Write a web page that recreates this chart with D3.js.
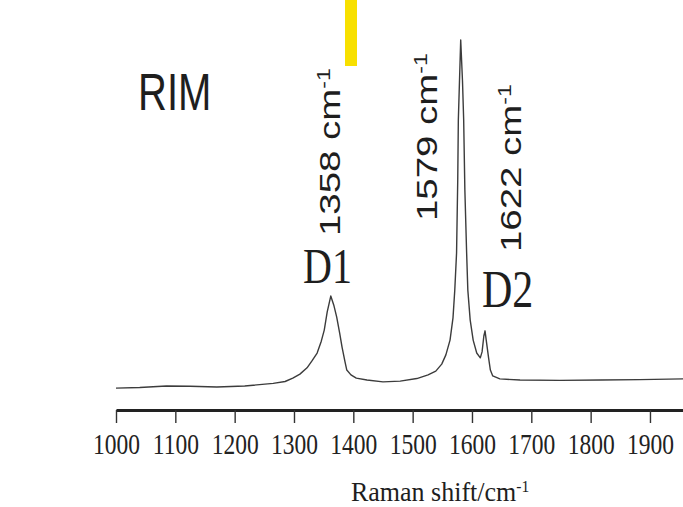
<!DOCTYPE html>
<html>
<head>
<meta charset="utf-8">
<style>
  body { margin: 0; background: #fff; }
  svg { display: block; }
</style>
</head>
<body>
<script src="https://cdn.jsdelivr.net/npm/d3@7"></script>
<script>
    // spectrum (wavenumber, intensity a.u.)
    let wavenumber = [1000, 1040, 1085, 1125, 1170, 1217, 1265, 1285, 1298, 1310, 1322, 1330, 1339, 1346, 1351, 1356, 1362, 1367, 1372, 1377, 1381, 1386, 1389, 1396, 1405, 1423, 1450, 1479, 1507, 1526, 1539, 1549, 1556, 1563, 1568, 1571, 1574, 1576, 1577, 1581, 1584, 1586, 1588, 1591, 1593, 1597, 1602, 1608, 1614, 1617, 1620, 1622, 1624, 1628, 1631, 1635, 1647, 1681, 1748, 1816, 1883, 1956]
    let intensity = [5.9, 6.1, 6.5, 6.4, 6.2, 6.5, 7.2, 7.7, 8.6, 9.7, 11.4, 13.2, 15.4, 18.6, 21.6, 26.5, 30.8, 28.4, 25.1, 20.8, 17.0, 13.0, 10.8, 9.5, 8.6, 8.1, 7.6, 7.8, 8.5, 9.5, 10.5, 12.4, 14.9, 18.9, 24.9, 32.4, 42.4, 62.2, 78.4, 100, 89, 78.4, 59.5, 42.4, 32.4, 24.3, 18.9, 15.4, 14.1, 15.7, 20.0, 21.4, 18.9, 14.1, 10.8, 9.2, 8.4, 8.1, 8.0, 8.1, 8.2, 8.4]
    let tick_values = [1000, 1100, 1200, 1300, 1400, 1500, 1600, 1700, 1800, 1900]
    let peak_labels = ["1358", "1579", "1622"]
    let band_names = ["D1", "D2"]

    let W = 683, H = 507
    let k = 1.28   // picture is stretched vertically

    let svg = d3.select("body").append("svg").attr("width", W).attr("height", H)

    let x = d3.scaleLinear().domain([1000, 2000]).range([116, 709.3])
    let y = d3.scaleLinear().domain([0, 100]).range([410, 40])

    // yellow marker at top
    svg.append("rect").attr("x", 345).attr("y", 0).attr("width", 12).attr("height", 66).attr("fill", "#f8e000")

    // spectrum
    let line = d3.line().x((d, i) => x(wavenumber[i])).y(d => y(d))
    svg.append("path").datum(intensity)
        .attr("d", line)
        .attr("fill", "none").attr("stroke", "#3c3c3c").attr("stroke-width", 1.4)
        .attr("stroke-linejoin", "round")

    // x axis
    let axis = svg.append("g").attr("transform", "translate(0,410)")
        .call(d3.axisBottom(x).tickValues(tick_values).tickSize(13).tickSizeOuter(0).tickFormat(d3.format("d")))
    axis.select(".domain").attr("stroke", "#222").attr("stroke-width", 3)
    axis.selectAll(".tick line").attr("stroke", "#333").attr("stroke-width", 1.4)
    axis.selectAll(".tick text")
        .attr("y", null).attr("dy", null)
        .attr("transform", `translate(0,44) scale(1,${k})`)
        .attr("fill", "#222")
        .attr("font-family", "Liberation Serif").attr("font-size", 23.5)

    let txt = (tx, ty, str, font, size, rot, sy) => {
        return svg.append("text")
            .attr("transform", `translate(${tx},${ty}) scale(1,${sy || k})` + (rot ? " rotate(-90)" : ""))
            .attr("font-family", font).attr("font-size", size).attr("fill", "#1e1e1e")
            .text(str)
    }
    let sup = (t, str) => {
        t.append("tspan").attr("dy", "-0.55em").attr("font-size", "60%").text(str)
    }

    // axis title
    let title = txt(351, 501, "Raman shift/cm", "Liberation Serif", 26, false, 1.05)
    sup(title, "-1")

    txt(138, 110, "RIM", "Liberation Sans", 40, false)
    txt(303, 283, band_names[0], "Liberation Serif", 40, false)
    txt(482, 307, band_names[1], "Liberation Serif", 42, false)

    let peak_pos = [[340, 236], [437, 221], [521, 252]]
    peak_labels.forEach((p, i) => {
        let t = txt(peak_pos[i][0], peak_pos[i][1], p + " cm", "Liberation Sans", 30, true)
        sup(t, "-1")
    })
</script>
</body>
</html>
